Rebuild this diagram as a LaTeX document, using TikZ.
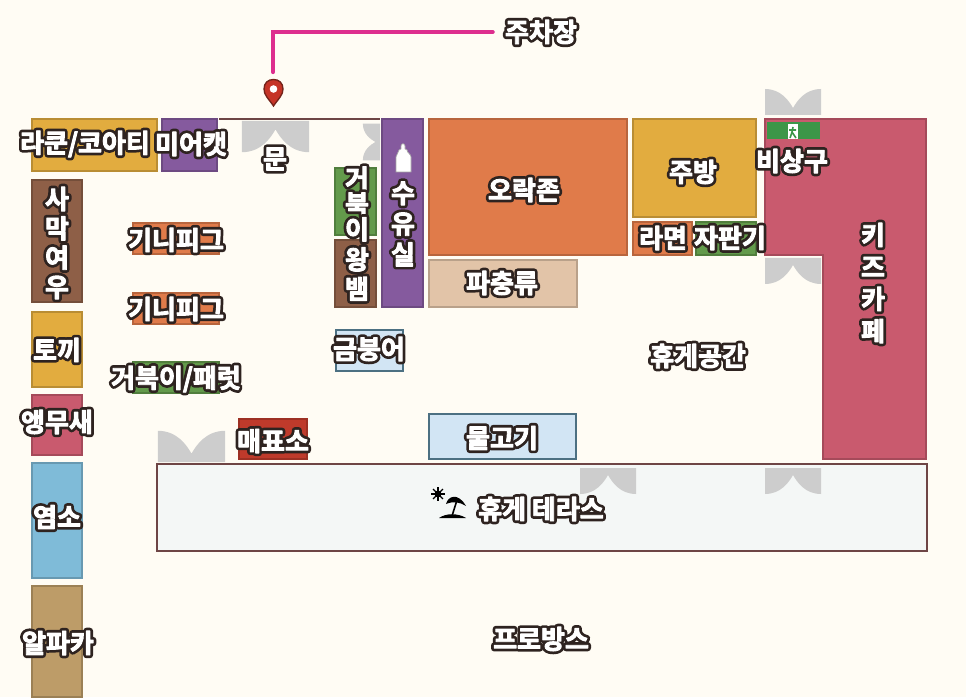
\documentclass[tikz,border=0pt]{standalone}
\usepackage{fontspec}
\newfontfamily\krb{Noto Sans CJK KR Bold}
\definecolor{bgcream}{HTML}{FFFCF4}
\definecolor{wallbrown}{HTML}{6E4545}
\definecolor{doorgray}{HTML}{CDCDCD}
\definecolor{gold}{HTML}{E2AC3F}
\definecolor{violet}{HTML}{855A9E}
\definecolor{soil}{HTML}{8E5F47}
\definecolor{rosered}{HTML}{C95A6E}
\definecolor{skyblue}{HTML}{7FBBD8}
\definecolor{camel}{HTML}{BD9C68}
\definecolor{carrot}{HTML}{E07B4A}
\definecolor{peach}{HTML}{E2C4A8}
\definecolor{leaf}{HTML}{639A4B}
\definecolor{brick}{HTML}{BF3A2B}
\definecolor{paleblue}{HTML}{D2E5F4}
\definecolor{terrace}{HTML}{F4F7F6}
\definecolor{exitgreen}{HTML}{3C9648}
\definecolor{parkpink}{HTML}{DD2E8E}
\newcommand{\outl}[1]{\leavevmode%
  \rlap{\special{pdf:code q 2 Tr 4.8 w 1 j 1 J 0.18 0.137 0.125 RG 0.18 0.137 0.125 rg}#1\special{pdf:code Q}}%
  \special{pdf:code q 2 Tr 0.7 w 1 j 1 J 1 1 1 RG 1 1 1 rg}#1\special{pdf:code Q}}
\tikzset{
  every picture/.style={line width=0.75pt},
  room/.style={draw=#1!82!black, fill=#1, line width=1.1pt},
  lbl/.style={inner sep=0pt, yshift=-0.75pt, font=\krb\fontsize{19.5}{22}\selectfont, align=center},
  doorswing/.pic={\fill [doorgray] (-28,0) -- (-28,-26) .. controls (-12,-26) and (-4,-14) .. (0,-7) .. controls (4,-14) and (12,-26) .. (28,-26) -- (28,0) -- cycle;}
}

\begin{document}
\begin{tikzpicture}[x=0.75pt,y=0.75pt,yscale=-1,xscale=1]
    \fill [bgcream] (0,0) rectangle (966,697);

    % rooms
    \draw [room=gold] (32,119) rectangle (157,171);
    \draw [room=violet] (162,119) rectangle (217,171);
    \draw [room=soil] (32,180) rectangle (82,302);
    \draw [room=gold] (32,312) rectangle (82,387);
    \draw [room=rosered] (32,395) rectangle (82,455);
    \draw [room=skyblue] (32,463) rectangle (82,578);
    \draw [room=camel] (32,586) rectangle (82,697);
    \draw [room=carrot] (133,223) rectangle (219,254);
    \draw [room=carrot] (133,293) rectangle (219,324);
    \draw [room=leaf] (133,362) rectangle (219,393);
    \draw [room=leaf] (335,168) rectangle (376,235);
    \draw [room=soil] (335,240) rectangle (376,307);
    \draw [room=violet] (382,119) rectangle (423,307);
    \draw [room=carrot] (429,119) rectangle (627,255);
    \draw [room=peach] (429,260) rectangle (577,307);
    \draw [room=gold] (633,119) rectangle (756,217);
    \draw [room=carrot] (633,222) rectangle (692,255);
    \draw [room=leaf] (696,222) rectangle (756,255);
    \draw [room=rosered] (765,119) -- (926,119) -- (926,459) -- (823,459) -- (823,255) -- (765,255) -- cycle;
    \draw [draw=skyblue!60!black, fill=paleblue, line width=1.1pt] (336,330) rectangle (403,371);
    \draw [room=brick] (239,419) rectangle (307,459);
    \draw [draw=skyblue!60!black, fill=paleblue, line width=1.1pt] (429,414) rectangle (576,459);
    \draw [draw=wallbrown, fill=terrace, line width=1.6pt] (157,464) rectangle (927,551);
    \draw [wallbrown, line width=1.6pt] (219,119) -- (380,119);

    % doors
    \path (275.5,121) pic [xscale=1.2, yscale=1.2] {doorswing};
    \path (380,142) pic [rotate=-90, scale=0.66] {doorswing};
    \path (191.5,462) pic [xscale=1.2, yscale=-1.2] {doorswing};
    \path (793,115) pic [yscale=-1] {doorswing};
    \path (793,258) pic {doorswing};
    \path (608,468) pic {doorswing};
    \path (793,468) pic {doorswing};

    % exit sign
    \fill [exitgreen] (767,122) rectangle (820,139);
    \fill [white] (788,124) rectangle (798,139);
    \draw [exitgreen, line width=1.2pt] (793,127) -- (792,132) -- (790,138) (792,132) -- (796,138) (789,130) -- (796,130);

    % map pin
    \draw [fill=brick!90!red, draw=brick!60!black, line width=1pt] (273.5,106) .. controls (268,98) and (264,95) .. (264,89) .. controls (264,83) and (268,79.5) .. (273.5,79.5) .. controls (279,79.5) and (283,83) .. (283,89) .. controls (283,95) and (279,98) .. (273.5,106) -- cycle;
    \fill [white] (273.5,89) circle (3.8);
    \coordinate (pinTop) at (273,72);

    % bottle
    \draw [fill=white, draw=black!35, line width=0.5pt] (396,172) -- (396,157) .. controls (396,154) and (399,153) .. (399,150) -- (401,149) -- (401,146) .. controls (401,143) and (405,143) .. (405,146) -- (405,149) -- (407,150) .. controls (407,153) and (411,154) .. (411,157) -- (411,172) -- cycle;

    % beach icon
    \foreach \ang in {0,45,...,315} {
      \draw [black, line width=1pt] (438,494) -- +(\ang:7);
    }
    \fill [black] (438,494) circle (3.5);
    \fill [black] (446,504) .. controls (448,496) and (458,492) .. (466,506) .. controls (460,502) and (453,501) .. (446,504) -- cycle;
    \draw [black, line width=1.2pt] (457,500) -- (452,516);
    \fill [black] (439,518) .. controls (446,513) and (458,513) .. (466,518) -- cycle;

    % labels
    \node [lbl] (parking) at (541,31) {\outl{주차장}};
    \node [lbl] (raccoon) at (85,143) {\outl{라쿤/코아티}};
    \node [lbl] (meerkat) at (191,143) {\outl{미어캣}};
    \node [lbl] (doorLbl) at (275,158) {\outl{문}};
    \node [lbl] (fennec) at (57,242) {\outl{사}\\\outl{막}\\\outl{여}\\\outl{우}};
    \node [lbl] (guineaA) at (176,239) {\outl{기니피그}};
    \node [lbl] (guineaB) at (176,308) {\outl{기니피그}};
    \node [lbl] (turtleFerret) at (176,378) {\outl{거북이/패럿}};
    \node [lbl] (turtle) at (357,203) {\outl{거}\\[-3pt]\outl{북}\\[-3pt]\outl{이}};
    \node [lbl] (python) at (357,273) {\outl{왕}\\\outl{뱀}};
    \node [lbl] (nursing) at (403,223) {\outl{수}\\[1pt]\outl{유}\\[1pt]\outl{실}};
    \node [lbl] (arcade) at (524,189) {\outl{오락존}};
    \node [lbl] (reptile) at (502,282) {\outl{파충류}};
    \node [lbl] (kitchen) at (693,171) {\outl{주방}};
    \node [lbl] (ramen) at (663,237) {\outl{라면}};
    \node [lbl] (vending) at (730,237) {\outl{자판기}};
    \node [lbl] (exitLbl) at (792,160) {\outl{비상구}};
    \node [lbl] (kidsCafe) at (873,282) {\outl{키}\\[2pt]\outl{즈}\\[2pt]\outl{카}\\[2pt]\outl{페}};
    \node [lbl] (lounge) at (698,355) {\outl{휴게공간}};
    \node [lbl] (goldfish) at (369,348) {\outl{금붕어}};
    \node [lbl] (rabbit) at (57,349) {\outl{토끼}};
    \node [lbl] (parrot) at (57,421) {\outl{앵무새}};
    \node [lbl] (goat) at (57,516) {\outl{염소}};
    \node [lbl] (alpaca) at (58,642) {\outl{알파카}};
    \node [lbl] (ticket) at (273,440) {\outl{매표소}};
    \node [lbl] (fish) at (502,437) {\outl{물고기}};
    \node [lbl] (terraceLbl) at (541,508) {\outl{휴게 테라스}};
    \node [lbl] (provence) at (541,638) {\outl{프로방스}};

    % parking line
    \draw [parkpink, line width=3.2pt, line cap=round] (parking.west) ++(-12,0) -| (pinTop);
\end{tikzpicture}
\end{document}
